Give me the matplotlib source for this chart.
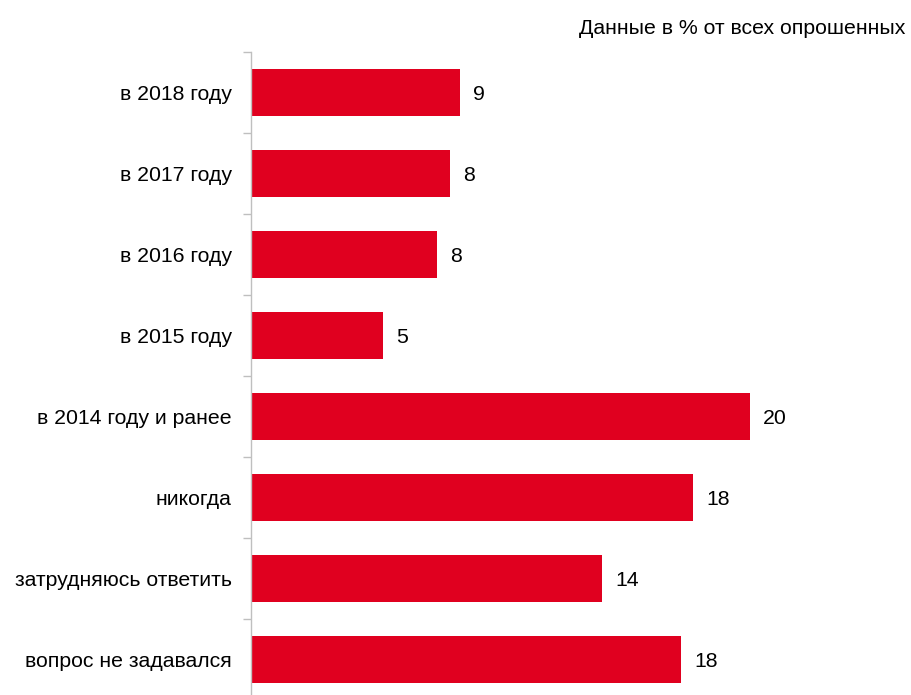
import matplotlib
matplotlib.use("Agg")
import matplotlib.pyplot as plt

categories = ["в 2018 году", "в 2017 году", "в 2016 году", "в 2015 году",
              "в 2014 году и ранее", "никогда", "затрудняюсь ответить", "вопрос не задавался"]
values = [8.36, 7.96, 7.44, 5.28, 19.96, 17.68, 14.04, 17.2]
value_labels = ["9", "8", "8", "5", "20", "18", "14", "18"]
title = "Данные в % от всех опрошенных"

plt.rcParams['font.family'] = ['Liberation Sans', 'DejaVu Sans']

FS = 15.3
W, H = 912, 695
fig = plt.figure(figsize=(W / 100, H / 100), dpi=100)
ax_left, ax_right = 251, 901
ax_top, ax_bottom = 52, 700
ax = fig.add_axes([ax_left / W, 1 - ax_bottom / H, (ax_right - ax_left) / W, (ax_bottom - ax_top) / H])

n = len(categories)
ypos = list(range(n))
ax.barh(ypos, values, height=0.58, color="#E0001F", edgecolor="none")
ax.set_xlim(0, 26)
ax.set_ylim(n - 0.5, -0.5)

for y, v, lab in zip(ypos, values, value_labels):
    ax.text(v + 0.52, y + 0.02, lab, va="center", ha="left", fontsize=FS, color="#000000")

ax.set_yticks(ypos)
ax.set_yticklabels(categories, fontsize=FS)
ax.tick_params(axis="y", length=0, pad=14)
ax.set_yticks([i + 0.5 for i in range(-1, n)], minor=True)
ax.tick_params(axis="y", which="minor", length=6, color="#BFBFBF", width=1)
ax.set_xticks([])
for s in ["top", "right", "bottom"]:
    ax.spines[s].set_visible(False)
ax.spines["left"].set_color("#BFBFBF")
ax.spines["left"].set_linewidth(1)

fig.text(905 / W, 1 - 28 / H, title, ha="right", va="center", fontsize=FS, color="#000000")

fig.savefig("out.png", dpi=100)
